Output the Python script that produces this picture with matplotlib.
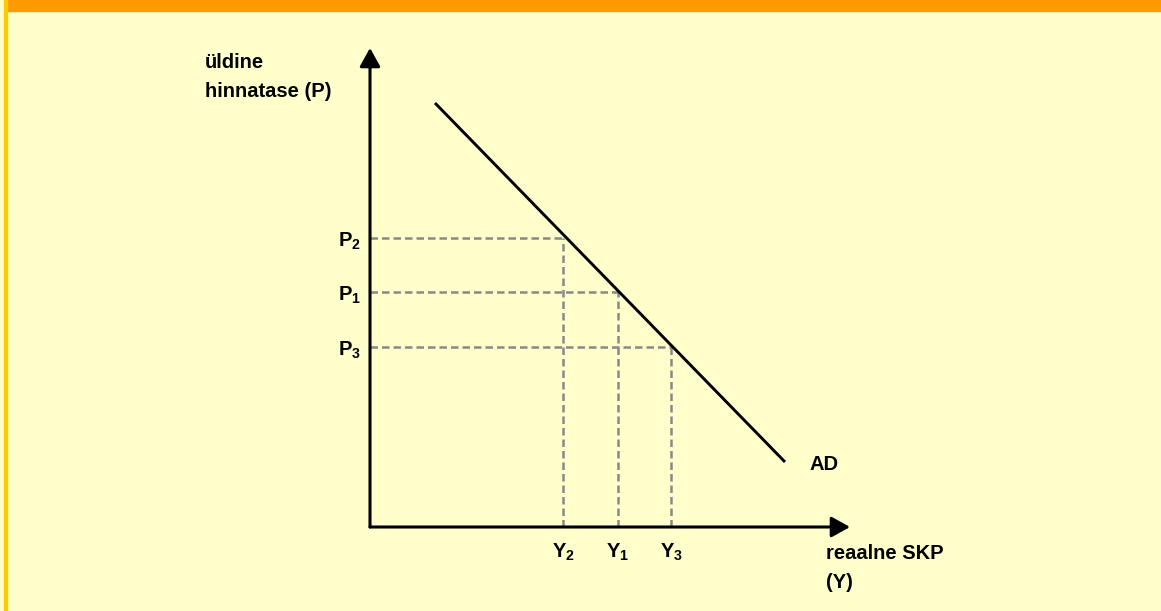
import matplotlib
matplotlib.use("Agg")
import matplotlib.pyplot as plt
from matplotlib.patches import Rectangle

plt.rcParams['font.family'] = ['Liberation Sans', 'DejaVu Sans']
plt.rcParams['mathtext.fontset'] = 'custom'
plt.rcParams['mathtext.bf'] = 'Liberation Sans:bold'
plt.rcParams['mathtext.rm'] = 'Liberation Sans:bold'

# andmed (suvalised ühikud, alguspunkt = 0)
ad_y = [6.5, 41.5]          # AD joone otspunktid, SKP
ad_p = [42.4, 6.5]          # AD joone otspunktid, hinnatase
skp = [19.3, 24.8, 30.1]    # Y2, Y1, Y3
hind = [28.9, 23.5, 18.0]   # P2, P1, P3
indeksid = ['2', '1', '3']

fig = plt.figure(figsize=(11.61, 6.11), dpi=100, facecolor='#FFFFCC')
W, H = 1161, 611
# raam: oranž riba üleval, kollane serv vasakul
fig.patches.append(Rectangle((7 / W, 1 - 11 / H), 1, 11 / H, transform=fig.transFigure,
                             color='#FF9900', zorder=0))
fig.patches.append(Rectangle((4 / W, 0), 3 / W, 1, transform=fig.transFigure,
                             color='#FFCC00', zorder=0))

ax = fig.add_axes([370 / W, 84 / H, 480 / W, 480 / H])
ax.set_xlim(0, 48)
ax.set_ylim(0, 48)
ax.axis('off')
ax.patch.set_alpha(0)

noole_stiil = dict(arrowstyle='-|>,head_length=0.45,head_width=0.25', color='black',
                   lw=2.2, shrinkA=0, shrinkB=0, mutation_scale=25)
ax.annotate('', xy=(0, 47.9), xytext=(0, 0), arrowprops=noole_stiil, annotation_clip=False)
ax.annotate('', xy=(48, 0), xytext=(0, 0), arrowprops=noole_stiil, annotation_clip=False)

# kriipsjooned
for y, p in zip(skp, hind):
    ax.plot([0, y], [p, p], color='#888888', lw=1.8, ls=(0, (3.0, 1.6)), clip_on=False)
    ax.plot([y, y], [0, p], color='#888888', lw=1.8, ls=(0, (3.0, 1.6)), clip_on=False)

ax.plot(ad_y, ad_p, color='black', lw=2.1, solid_capstyle='butt')

tekst = dict(fontsize=14.5, fontweight='bold')
for y, p, i in zip(skp, hind, indeksid):
    ax.text(-0.9, p - 0.3, r'$\mathbf{P}_{\mathbf{%s}}$' % i, ha='right', va='center', fontsize=14.5)
    ax.text(y, -2.5, r'$\mathbf{Y}_{\mathbf{%s}}$' % i, ha='center', va='center', fontsize=14.5)

ax.text(-16.5, 47.4, 'üldine\nhinnatase (P)', ha='left', va='top', linespacing=1.65, **tekst)
ax.text(44.0, 6.2, 'AD', ha='left', va='center', **tekst)
ax.text(45.6, -1.7, 'reaalne SKP\n(Y)', ha='left', va='top', linespacing=1.65, **tekst)

fig.savefig('out.png', dpi=100, facecolor=fig.get_facecolor())
